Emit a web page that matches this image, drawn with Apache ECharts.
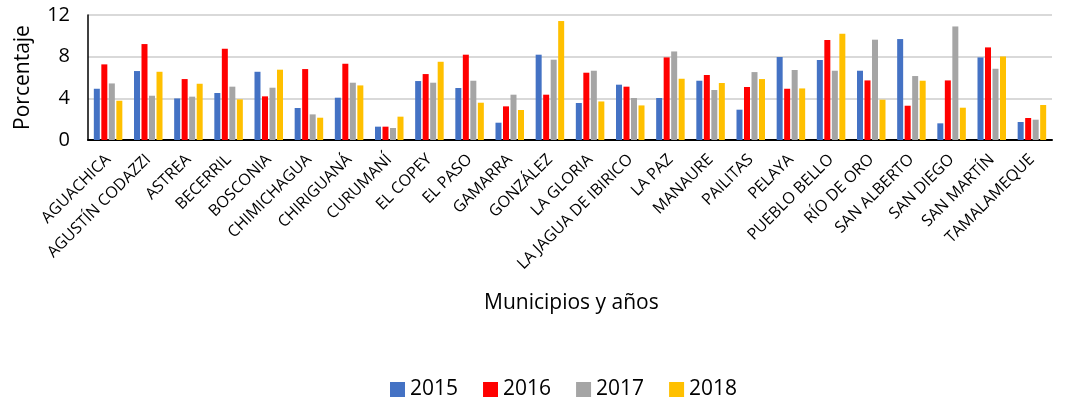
<!DOCTYPE html>
<html>
<head>
<meta charset="utf-8">
<script src="https://cdn.jsdelivr.net/npm/echarts@6/dist/echarts.min.js"></script>
<style>
html,body{margin:0;padding:0;background:#fff;}
#chart{width:1067px;height:403px;}
</style>
</head>
<body>
<div id="chart"></div>
<script>
const categories = ["AGUACHICA","AGUSTÍN CODAZZI","ASTREA","BECERRIL","BOSCONIA","CHIMICHAGUA","CHIRIGUANÁ","CURUMANÍ","EL COPEY","EL PASO","GAMARRA","GONZÁLEZ","LA GLORIA","LA JAGUA DE IBIRICO","LA PAZ","MANAURE","PAILITAS","PELAYA","PUEBLO BELLO","RÍO DE ORO","SAN ALBERTO","SAN DIEGO","SAN MARTÍN","TAMALAMEQUE"];
const v2015 = [4.92,6.62,3.99,4.51,6.55,3.07,4.06,1.28,5.66,4.99,1.66,8.19,3.55,5.31,4.03,5.69,2.91,7.97,7.68,6.65,9.69,1.60,7.93,1.73];
const v2016 = [7.26,9.21,5.85,8.76,4.19,6.81,7.32,1.28,6.33,8.19,3.23,4.35,6.46,5.12,7.93,6.24,5.09,4.92,9.60,5.72,3.29,5.72,8.89,2.11];
const v2017 = [5.43,4.25,4.16,5.12,5.02,2.46,5.50,1.15,5.50,5.69,4.35,7.71,6.65,4.03,8.50,4.80,6.52,6.72,6.65,9.63,6.14,10.90,6.84,1.95];
const v2018 = [3.77,6.55,5.40,3.90,6.75,2.14,5.24,2.24,7.51,3.58,2.88,11.42,3.70,3.32,5.88,5.47,5.85,4.95,10.20,3.87,5.69,3.10,8.02,3.36];
const seriesNames = ["2015","2016","2017","2018"];
const yTicks = [0,4,8,12];
const colors = ["#4472C4","#FF0000","#A5A5A5","#FFC000"];

const font = "'Open Sans', 'DejaVu Sans', sans-serif";
const chart = echarts.init(document.getElementById('chart'), null, {renderer:'canvas'});
const dataSets = [v2015, v2016, v2017, v2018];
chart.setOption({
  animation: false,
  color: colors,
  textStyle: {fontFamily: font},
  grid: {left: 88, right: 15, top: 15, bottom: 263, containLabel: false},
  legend: {
    data: seriesNames,
    left: 385, top: 374,
    itemWidth: 15, itemHeight: 15, itemGap: 25,
    icon: 'rect',
    textStyle: {fontSize: 21, color: '#000', fontFamily: font}
  },
  graphic: [{
    type: 'text', left: 484, top: 293,
    style: {text: 'Municipios y años', fontSize: 21, fill: '#000', fontFamily: font}
  }],
  xAxis: {
    type: 'category',
    data: categories,
    axisLine: {show: true, lineStyle: {color: '#000', width: 2}},
    axisTick: {show: false},
    axisLabel: {rotate: 45, interval: 0, fontSize: 16, color: '#000', margin: 17, fontFamily: font}
  },
  yAxis: {
    type: 'value', min: yTicks[0], max: yTicks[yTicks.length-1], interval: 4,
    name: 'Porcentaje', nameLocation: 'middle', nameGap: 54, nameRotate: 90,
    nameTextStyle: {fontSize: 21, color: '#000', fontFamily: font},
    axisLine: {show: true, lineStyle: {color: '#000', width: 1.5}},
    axisTick: {show: false},
    axisLabel: {fontSize: 20, color: '#000', margin: 18, fontFamily: font},
    splitLine: {show: true, lineStyle: {color: '#d9d9d9', width: 2}}
  },
  series: seriesNames.map((n, i) => ({
    name: n, type: 'bar', data: dataSets[i],
    barGap: '25%', barCategoryGap: '29%',
    itemStyle: {color: colors[i]}
  }))
});
</script>
</body>
</html>
